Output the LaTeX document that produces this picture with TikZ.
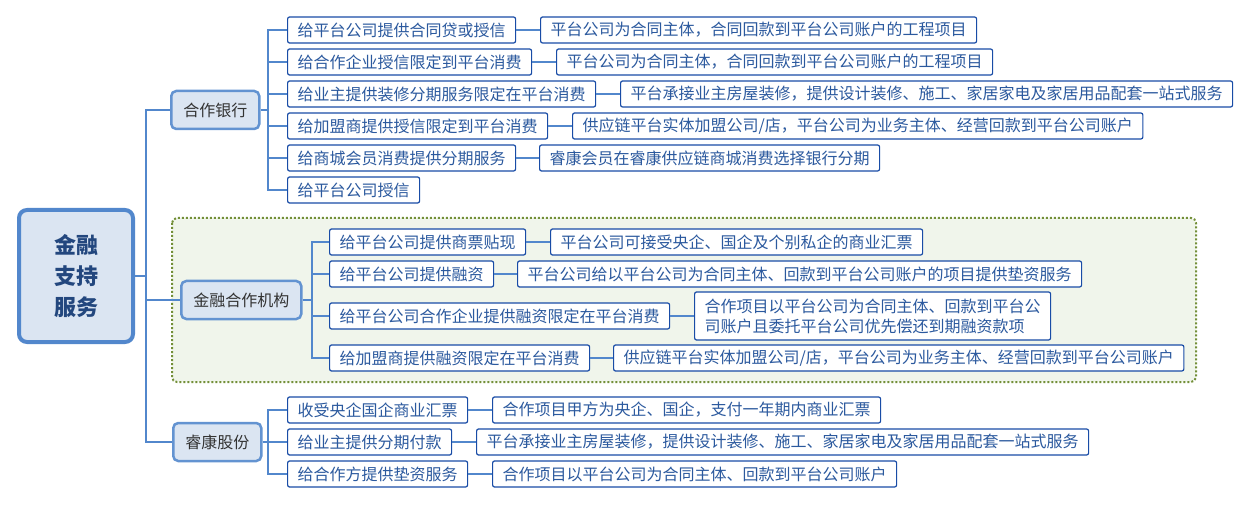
\documentclass[tikz,border=0pt]{standalone}
\usepackage{fontspec}
\newfontfamily\cjk{Noto Sans CJK SC}
\usetikzlibrary{positioning}
\definecolor{linecolor}{rgb}{0.32, 0.53, 0.80}
\definecolor{boxcolor}{rgb}{0.10, 0.30, 0.65}
\definecolor{textcolor}{rgb}{0.17, 0.35, 0.62}
\definecolor{branchfill}{rgb}{0.86, 0.90, 0.95}
\definecolor{groupfill}{rgb}{0.94, 0.96, 0.92}
\definecolor{groupline}{rgb}{0.45, 0.56, 0.22}
\tikzset{
  leaf/.style={draw=boxcolor, line width=1.2pt, rounded corners=2pt, fill=white, text=textcolor,
    anchor=west, minimum height=26pt, inner xsep=10pt, inner ysep=2pt, font=\cjk\fontsize{16}{20}\selectfont},
  branch/.style={draw=linecolor!90, line width=2.5pt, rounded corners=5pt, fill=branchfill, text=black!80,
    anchor=west, minimum height=38pt, inner xsep=12pt, font=\cjk\fontsize{16}{20}\selectfont},
  conn/.style={draw=linecolor, line width=1.3pt}
}
\begin{document}
\begin{tikzpicture}[x=1pt,y=-1pt]
\useasboundingbox (0,0) rectangle (1251,505);
% group background
\draw[groupline, fill=groupfill, line width=2pt, dotted, rounded corners=5pt] (172,218) rectangle (1196,382);
% root
\node[draw=linecolor, line width=4pt, rounded corners=8pt, fill=branchfill, text=textcolor!80!black,
  minimum width=114pt, minimum height=132pt, align=center, font=\cjk\bfseries\fontsize{22}{31}\selectfont]
  (root) at (76,276) {金融\\支持\\服务};
% branches
\node[branch] (bank) at (170,110) {合作银行};
\node[branch] (inst) at (180,300) {金融合作机构};
\node[branch] (rk) at (172,442) {睿康股份};
% bank leaves
\node[leaf] (b1) at (287,30) {给平台公司提供合同贷或授信};
\node[leaf] (b2) at (287,62) {给合作企业授信限定到平台消费};
\node[leaf] (b3) at (287,94) {给业主提供装修分期服务限定在平台消费};
\node[leaf] (b4) at (287,126) {给加盟商提供授信限定到平台消费};
\node[leaf] (b5) at (287,158) {给商城会员消费提供分期服务};
\node[leaf] (b6) at (287,190) {给平台公司授信};
\node[leaf] (b1d) at (540,30) {平台公司为合同主体，合同回款到平台公司账户的工程项目};
\node[leaf] (b2d) at (556,62) {平台公司为合同主体，合同回款到平台公司账户的工程项目};
\node[leaf] (b3d) at (620,94) {平台承接业主房屋装修，提供设计装修、施工、家居家电及家居用品配套一站式服务};
\node[leaf] (b4d) at (572,126) {供应链平台实体加盟公司/店，平台公司为业务主体、经营回款到平台公司账户};
\node[leaf] (b5d) at (539,158) {睿康会员在睿康供应链商城消费选择银行分期};
% institution leaves
\node[leaf] (i1) at (329,242) {给平台公司提供商票贴现};
\node[leaf] (i2) at (329,274) {给平台公司提供融资};
\node[leaf] (i3) at (329,316) {给平台公司合作企业提供融资限定在平台消费};
\node[leaf] (i4) at (329,358) {给加盟商提供融资限定在平台消费};
\node[leaf] (i1d) at (550,242) {平台公司可接受央企、国企及个别私企的商业汇票};
\node[leaf] (i2d) at (517,274) {平台公司给以平台公司为合同主体、回款到平台公司账户的项目提供垫资服务};
\node[leaf, align=left, minimum height=48pt] (i3d) at (694,316) {合作项目以平台公司为合同主体、回款到平台公\\司账户且委托平台公司优先偿还到期融资款项};
\node[leaf] (i4d) at (613,358) {供应链平台实体加盟公司/店，平台公司为业务主体、经营回款到平台公司账户};
% ruikang leaves
\node[leaf] (r1) at (287,410) {收受央企国企商业汇票};
\node[leaf] (r2) at (287,442) {给业主提供分期付款};
\node[leaf] (r3) at (287,474) {给合作方提供垫资服务};
\node[leaf] (r1d) at (492,410) {合作项目甲方为央企、国企，支付一年期内商业汇票};
\node[leaf] (r2d) at (476,442) {平台承接业主房屋装修，提供设计装修、施工、家居家电及家居用品配套一站式服务};
\node[leaf] (r3d) at (492,474) {合作项目以平台公司为合同主体、回款到平台公司账户};
% connectors
\coordinate (rj) at (146,276);
\draw[conn] (root.east) -- (rj);
\foreach \b in {bank,inst,rk} \draw[conn] (rj) |- (\b.west);
\coordinate (bj) at (268,110);
\draw[conn] (bank.east) -- (bj);
\foreach \n in {b1,b2,b3,b4,b5,b6} \draw[conn] (bj) |- (\n.west);
\coordinate (ij) at (312,300);
\draw[conn] (inst.east) -- (ij);
\foreach \n in {i1,i2,i3,i4} \draw[conn] (ij) |- (\n.west);
\coordinate (kj) at (268,442);
\draw[conn] (rk.east) -- (kj);
\foreach \n in {r1,r2,r3} \draw[conn] (kj) |- (\n.west);
\foreach \n in {b1,b2,b3,b4,b5,i1,i2,i3,i4,r1,r2,r3} \draw[conn] (\n.east) -- (\n d.west);
\end{tikzpicture}
\end{document}
